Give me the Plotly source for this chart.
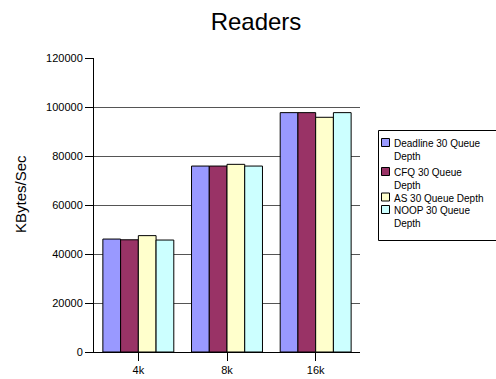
import plotly.graph_objects as go

# Block sizes on the category axis
categories = ["4k", "8k", "16k"]

# Read throughput (KBytes/Sec) per I/O scheduler
deadline = [46100, 75900, 97700]
cfq = [45800, 75900, 97700]
as_sched = [47500, 76600, 95800]
noop = [45700, 75900, 97700]

series_names = [
    "Deadline 30 Queue Depth",
    "CFQ 30 Queue Depth",
    "AS 30 Queue Depth",
    "NOOP 30 Queue Depth",
]
# How each name wraps inside the legend box
legend_labels = [
    "Deadline 30 Queue<br>Depth",
    "CFQ 30 Queue<br>Depth",
    "AS 30 Queue Depth",
    "NOOP 30 Queue<br>Depth",
]
series_values = [deadline, cfq, as_sched, noop]
series_colors = ["#9999FF", "#993366", "#FFFFCC", "#CCFFFF"]

FONT = "Liberation Sans, Arial, sans-serif"

# Plot-area geometry in pixels (used to place the legend box)
W, H = 496, 379
L, R, T, B = 94, 136, 58, 27
PW, PH = W - L - R, H - T - B


def px_x(x):
    return (x - L) / PW


def px_y(y):
    return (H - B - y) / PH


fig = go.Figure()
for name, vals, color in zip(series_names, series_values, series_colors):
    fig.add_trace(go.Bar(
        x=categories, y=vals, name=name, showlegend=False,
        marker=dict(color=color, line=dict(color="#000000", width=1)),
    ))

# Legend: framed box with square swatches and wrapped labels
shapes = [dict(type="rect", xref="paper", yref="paper",
               x0=px_x(378.5), x1=px_x(W + 5), y0=px_y(130.5), y1=px_y(240.5),
               line=dict(color="#000000", width=1), fillcolor="white", layer="above")]
annotations = []
entry_rows = [142.5, 171.5, 197, 209.5]
for label, color, yc in zip(legend_labels, series_colors, entry_rows):
    shapes.append(dict(type="rect", xref="paper", yref="paper",
                       x0=px_x(381.5), x1=px_x(389.5), y0=px_y(yc - 4), y1=px_y(yc + 4),
                       line=dict(color="#000000", width=1), fillcolor=color, layer="above"))
    annotations.append(dict(
        text=label, showarrow=False, xref="paper", yref="paper",
        x=px_x(392), y=px_y(yc - 6.5), xanchor="left", yanchor="top", align="left",
        font=dict(size=10, family=FONT, color="#000000"),
    ))

annotations.append(dict(
    text="KBytes/Sec", textangle=-90, showarrow=False,
    xref="paper", yref="paper", x=px_x(20), y=px_y(194),
    xanchor="center", yanchor="middle",
    font=dict(size=15, family=FONT, color="#000000"),
))

fig.update_layout(
    width=W, height=H,
    margin=dict(l=L, r=R, t=T, b=B, autoexpand=False),
    paper_bgcolor="white", plot_bgcolor="white",
    font=dict(family=FONT, color="#000000"),
    barmode="group", bargap=0.2, bargroupgap=0,
    title=dict(text="Readers", font=dict(size=24, family=FONT, color="#000000"),
               x=256 / W, xref="container", xanchor="center",
               y=1 - 22 / H, yref="container", yanchor="middle"),
    xaxis=dict(
        showline=True, linecolor="#000000", linewidth=1,
        ticks="outside", ticklen=8, tickcolor="#000000",
        tickfont=dict(size=11, family=FONT), showgrid=False,
    ),
    yaxis=dict(
        range=[0, 120000], dtick=20000, tickformat="d",
        showline=True, linecolor="#000000", linewidth=1,
        ticks="outside", ticklen=8, tickcolor="#000000",
        tickfont=dict(size=11, family=FONT),
        showgrid=True, gridcolor="#555555", gridwidth=1,
        zeroline=False,
    ),
    shapes=shapes,
    annotations=annotations,
)

fig.write_html("out.html")
